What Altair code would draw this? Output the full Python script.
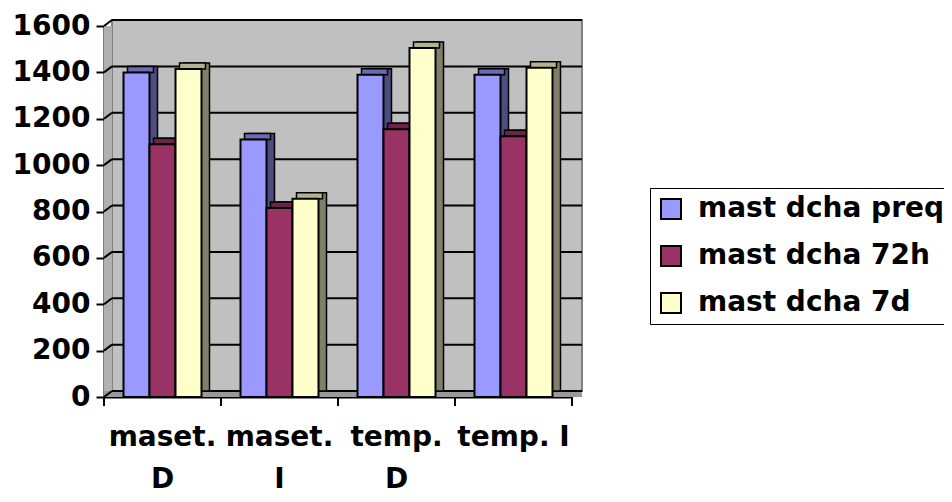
import json
import altair as alt
import pandas as pd

categories = ["maset. D", "maset. I", "temp. D", "temp. I"]
x_label_lines = [["maset.", "D"], ["maset.", "I"], ["temp.", "D"], ["temp. I"]]
series = ["mast dcha preq", "mast dcha 72h", "mast dcha 7d"]
preq = [1400, 1110, 1390, 1390]
h72 = [1090, 815, 1155, 1125]
d7 = [1415, 855, 1505, 1420]
y_ticks = [0, 200, 400, 600, 800, 1000, 1200, 1400, 1600]

front_colors = ["#9999FF", "#993366", "#FFFFCC"]
side_colors = ["#4D4D80", "#6B2447", "#80806A"]
top_colors = ["#6B6BB3", "#6B2447", "#B3B38F"]

rows = []
for s, vals in zip(series, [preq, h72, d7]):
    for c, v in zip(categories, vals):
        rows.append({"cat": c, "series": s, "value": v})
df = pd.DataFrame(rows)
ticks_df = pd.DataFrame({"value": y_ticks})
wall_df = pd.DataFrame({"value": [y_ticks[-1]], "value0": [y_ticks[0]]})
cat_df = pd.DataFrame({"cat": categories})

W, H = 468, 371
D = 6   # depth dy
DX = 8  # depth dx

label_expr = " : ".join(
    f"datum.value == {json.dumps(c)} ? {json.dumps(l)}" for c, l in zip(categories, x_label_lines)
) + " : datum.label"

x_axis = alt.Axis(title=None, labelAngle=0, ticks=False, labelExpr=label_expr,
                  labelPadding=26, labelLineHeight=42, labelBaseline="top", domain=True)
x_scale = alt.Scale(paddingInner=0, paddingOuter=0)
x_enc = alt.X("cat:N", sort=categories, scale=x_scale, axis=x_axis)


def xo(align):
    return alt.XOffset("series:N", sort=series,
                       scale=alt.Scale(paddingInner=0, paddingOuter=0.75, align=align))


y_scale = alt.Scale(domain=[0, 1600], nice=False)
y_axis = alt.Axis(title=None, values=y_ticks, grid=False, tickSize=8, labelPadding=6, format="d")
y_enc = alt.Y("value:Q", scale=y_scale, axis=y_axis)

wall = alt.Chart(wall_df).mark_rect(fill="#C0C0C0", stroke="#808080", strokeWidth=2,
                                    yOffset=-D, y2Offset=-D).encode(
    x=alt.value(DX), x2=alt.value(W + 10), y=y_enc, y2="value0:Q")
side_wall = alt.Chart(wall_df).mark_rect(fill="#B0B0B0").encode(
    x=alt.value(0), x2=alt.value(DX), y=y_enc, y2="value0:Q")
floor = alt.Chart(wall_df).mark_rect(fill="#9A9A9A", yOffset=-D).encode(
    x=alt.value(0), x2=alt.value(W + 10), y=alt.Y("value0:Q", scale=y_scale, axis=y_axis),
    y2="value0:Q")
grid = alt.Chart(ticks_df).mark_rule(color="black", strokeWidth=2, yOffset=-D).encode(
    x=alt.value(DX), x2=alt.value(W + 10), y=y_enc)
grid_side = alt.Chart(ticks_df).mark_rule(color="black", strokeWidth=2, y2Offset=-D).encode(
    x=alt.value(0), x2=alt.value(DX), y=y_enc, y2="value:Q")

shadow = alt.Chart(df).mark_bar(stroke="black", strokeWidth=1.5,
                                yOffset=-D, y2Offset=-D).encode(
    x=x_enc, xOffset=xo(27.5 / 39), y=y_enc,
    color=alt.Color("series:N", sort=series, legend=None,
                    scale=alt.Scale(domain=series, range=side_colors)))
top = alt.Chart(df).mark_bar(stroke="black", strokeWidth=1.5, yOffset=-D).encode(
    x=x_enc, xOffset=xo(23.5 / 39), y=y_enc, y2="value:Q",
    color=alt.Color("series:N", sort=series, legend=None,
                    scale=alt.Scale(domain=series, range=top_colors)))
front = alt.Chart(df).mark_bar(stroke="black", strokeWidth=2).encode(
    x=x_enc, xOffset=xo(0.5), y=y_enc,
    color=alt.Color("series:N", sort=series,
                    scale=alt.Scale(domain=series, range=front_colors),
                    legend=alt.Legend(title=None, orient="none", legendX=546, legendY=162)))

xticks = alt.Chart(cat_df).mark_rule(color="black", strokeWidth=2).encode(
    x=alt.X("cat:N", sort=categories, scale=x_scale, axis=x_axis, bandPosition=0),
    y=alt.value(H), y2=alt.value(H + 9))
xtick_end = alt.Chart(cat_df).mark_rule(color="black", strokeWidth=2).encode(
    x=alt.value(W), y=alt.value(H), y2=alt.value(H + 9))

chart = alt.layer(wall, side_wall, floor, grid, grid_side, shadow, top, front, xticks, xtick_end).resolve_scale(
    color="independent", xOffset="independent"
).properties(
    width=W, height=H,
    autosize=alt.AutoSizeParams(type="none"),
    padding={"left": 96, "top": 18, "right": 372, "bottom": 97},
).configure_view(stroke=None).configure_axis(
    domainColor="black", domainWidth=2, tickColor="black", tickWidth=2,
    labelFont="DejaVu Sans", labelFontWeight="bold", labelFontSize=28, labelColor="black",
).configure_legend(
    fillColor="white", strokeColor="black", padding=7,
    labelFont="DejaVu Sans", labelFontWeight="bold", labelFontSize=28, labelColor="black",
    labelLimit=0, labelOffset=13, rowPadding=19,
    symbolType="square", symbolSize=400, symbolStrokeColor="black", symbolStrokeWidth=2,
)

chart.save("out.html", embed_options={"renderer": "svg", "actions": False})
